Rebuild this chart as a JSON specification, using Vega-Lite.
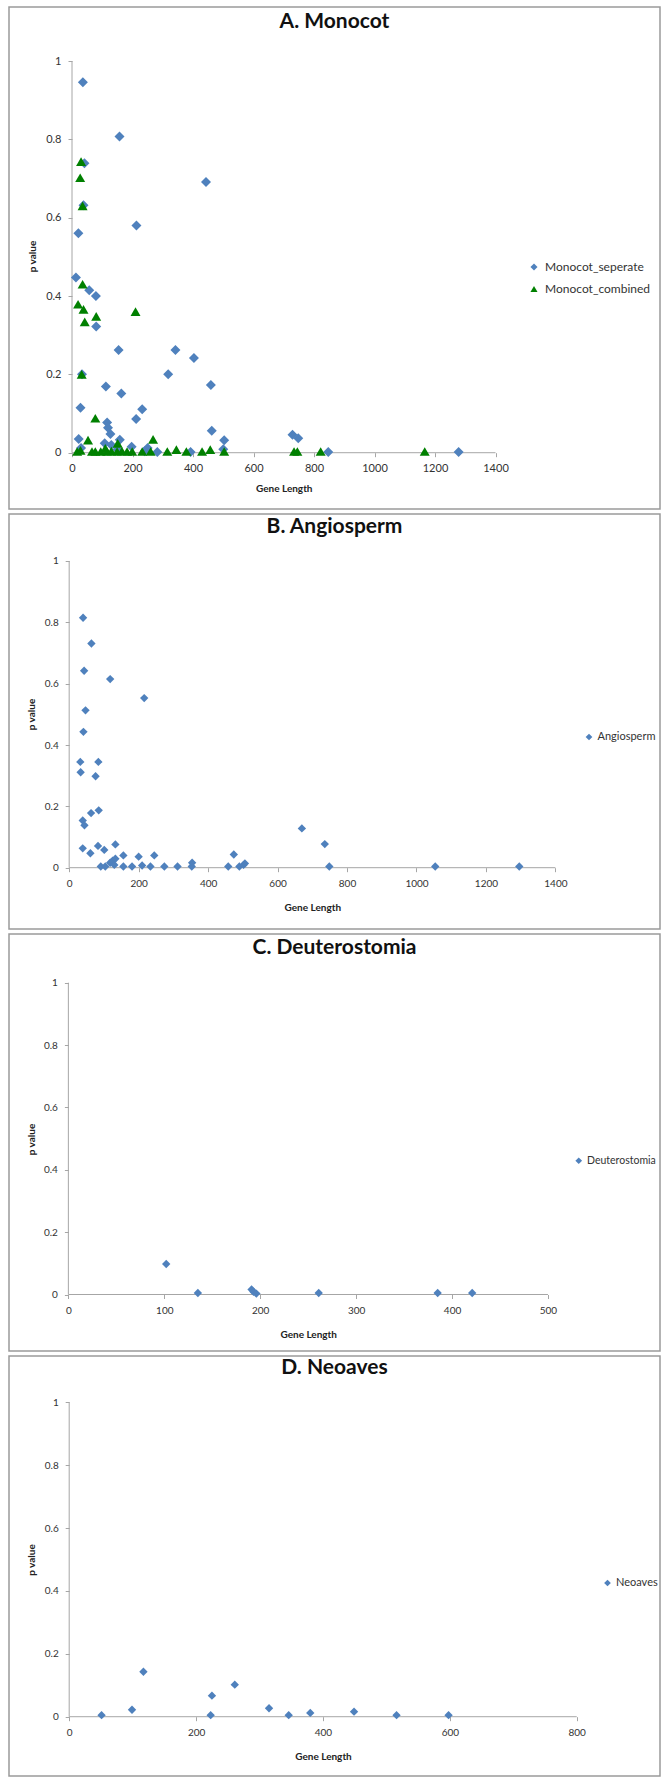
{
"$schema": "https://vega.github.io/schema/vega-lite/v6.json",
"padding": {"left": 8, "top": 6, "right": 7, "bottom": 7},
"background": "white",
"bounds": "flush",
"spacing": 5,
"resolve": {"scale": {"x": "independent", "y": "independent", "color": "independent", "shape": "independent"}, "legend": {"color": "independent", "shape": "independent"}, "axis": {"x": "independent", "y": "independent"}},
"config": {
  "font": "Lato",
  "view": {"stroke": "#9a9a9a", "strokeWidth": 1.5},
  "axis": {"grid": false, "domain": false, "tickColor": "#a6a6a6", "tickSize": 4, "labelColor": "#333333", "labelFont": "Lato", "titleFont": "Lato", "titleFontWeight": "bold", "titleColor": "#222222", "titleFontSize": 10, "labelFlush": false, "labelOverlap": false},
  "title": {"font": "Lato", "fontWeight": "bold", "fontSize": 21, "color": "#111111", "anchor": "middle", "frame": "group"},
  "legend": {"labelFont": "Lato", "labelColor": "#333333", "padding": 0, "symbolStrokeWidth": 0}
},
"datasets": {
  "monocot": [
    {"series": "Monocot_seperate", "gene_length": 36, "p": 0.946},
    {"series": "Monocot_seperate", "gene_length": 157, "p": 0.807},
    {"series": "Monocot_seperate", "gene_length": 41, "p": 0.739},
    {"series": "Monocot_seperate", "gene_length": 38, "p": 0.632},
    {"series": "Monocot_seperate", "gene_length": 443, "p": 0.691},
    {"series": "Monocot_seperate", "gene_length": 213, "p": 0.58},
    {"series": "Monocot_seperate", "gene_length": 21, "p": 0.56},
    {"series": "Monocot_seperate", "gene_length": 13, "p": 0.447},
    {"series": "Monocot_seperate", "gene_length": 57, "p": 0.415},
    {"series": "Monocot_seperate", "gene_length": 79, "p": 0.4},
    {"series": "Monocot_seperate", "gene_length": 80, "p": 0.322},
    {"series": "Monocot_seperate", "gene_length": 154, "p": 0.262},
    {"series": "Monocot_seperate", "gene_length": 342, "p": 0.262},
    {"series": "Monocot_seperate", "gene_length": 403, "p": 0.242},
    {"series": "Monocot_seperate", "gene_length": 318, "p": 0.2},
    {"series": "Monocot_seperate", "gene_length": 33, "p": 0.2},
    {"series": "Monocot_seperate", "gene_length": 112, "p": 0.169},
    {"series": "Monocot_seperate", "gene_length": 459, "p": 0.173},
    {"series": "Monocot_seperate", "gene_length": 163, "p": 0.151},
    {"series": "Monocot_seperate", "gene_length": 28, "p": 0.115},
    {"series": "Monocot_seperate", "gene_length": 232, "p": 0.111},
    {"series": "Monocot_seperate", "gene_length": 212, "p": 0.086},
    {"series": "Monocot_seperate", "gene_length": 116, "p": 0.077},
    {"series": "Monocot_seperate", "gene_length": 119, "p": 0.064},
    {"series": "Monocot_seperate", "gene_length": 127, "p": 0.048},
    {"series": "Monocot_seperate", "gene_length": 462, "p": 0.056},
    {"series": "Monocot_seperate", "gene_length": 22, "p": 0.035},
    {"series": "Monocot_seperate", "gene_length": 503, "p": 0.032},
    {"series": "Monocot_seperate", "gene_length": 158, "p": 0.033},
    {"series": "Monocot_seperate", "gene_length": 729, "p": 0.046},
    {"series": "Monocot_seperate", "gene_length": 748, "p": 0.037},
    {"series": "Monocot_seperate", "gene_length": 108, "p": 0.024},
    {"series": "Monocot_seperate", "gene_length": 197, "p": 0.015},
    {"series": "Monocot_seperate", "gene_length": 250, "p": 0.012},
    {"series": "Monocot_seperate", "gene_length": 282, "p": 0.002},
    {"series": "Monocot_seperate", "gene_length": 392, "p": 0.002},
    {"series": "Monocot_seperate", "gene_length": 500, "p": 0.009},
    {"series": "Monocot_seperate", "gene_length": 847, "p": 0.002},
    {"series": "Monocot_seperate", "gene_length": 1278, "p": 0.002},
    {"series": "Monocot_seperate", "gene_length": 30, "p": 0.012},
    {"series": "Monocot_seperate", "gene_length": 130, "p": 0.02},
    {"series": "Monocot_seperate", "gene_length": 150, "p": 0.008},
    {"series": "Monocot_seperate", "gene_length": 240, "p": 0.004},
    {"series": "Monocot_combined", "gene_length": 30, "p": 0.743},
    {"series": "Monocot_combined", "gene_length": 27, "p": 0.702},
    {"series": "Monocot_combined", "gene_length": 35, "p": 0.63},
    {"series": "Monocot_combined", "gene_length": 35, "p": 0.43},
    {"series": "Monocot_combined", "gene_length": 20, "p": 0.379},
    {"series": "Monocot_combined", "gene_length": 38, "p": 0.366},
    {"series": "Monocot_combined", "gene_length": 42, "p": 0.334},
    {"series": "Monocot_combined", "gene_length": 80, "p": 0.348},
    {"series": "Monocot_combined", "gene_length": 210, "p": 0.36},
    {"series": "Monocot_combined", "gene_length": 32, "p": 0.2},
    {"series": "Monocot_combined", "gene_length": 77, "p": 0.088},
    {"series": "Monocot_combined", "gene_length": 53, "p": 0.032},
    {"series": "Monocot_combined", "gene_length": 268, "p": 0.034},
    {"series": "Monocot_combined", "gene_length": 151, "p": 0.024},
    {"series": "Monocot_combined", "gene_length": 110, "p": 0.011},
    {"series": "Monocot_combined", "gene_length": 17, "p": 0.003},
    {"series": "Monocot_combined", "gene_length": 28, "p": 0.006},
    {"series": "Monocot_combined", "gene_length": 66, "p": 0.003},
    {"series": "Monocot_combined", "gene_length": 77, "p": 0.003},
    {"series": "Monocot_combined", "gene_length": 95, "p": 0.003},
    {"series": "Monocot_combined", "gene_length": 116, "p": 0.003},
    {"series": "Monocot_combined", "gene_length": 130, "p": 0.004},
    {"series": "Monocot_combined", "gene_length": 149, "p": 0.003},
    {"series": "Monocot_combined", "gene_length": 165, "p": 0.004},
    {"series": "Monocot_combined", "gene_length": 182, "p": 0.003},
    {"series": "Monocot_combined", "gene_length": 199, "p": 0.003},
    {"series": "Monocot_combined", "gene_length": 232, "p": 0.003},
    {"series": "Monocot_combined", "gene_length": 260, "p": 0.003},
    {"series": "Monocot_combined", "gene_length": 315, "p": 0.003},
    {"series": "Monocot_combined", "gene_length": 345, "p": 0.008},
    {"series": "Monocot_combined", "gene_length": 378, "p": 0.003},
    {"series": "Monocot_combined", "gene_length": 430, "p": 0.003},
    {"series": "Monocot_combined", "gene_length": 457, "p": 0.008},
    {"series": "Monocot_combined", "gene_length": 503, "p": 0.003},
    {"series": "Monocot_combined", "gene_length": 734, "p": 0.003},
    {"series": "Monocot_combined", "gene_length": 745, "p": 0.003},
    {"series": "Monocot_combined", "gene_length": 822, "p": 0.003},
    {"series": "Monocot_combined", "gene_length": 1166, "p": 0.003}
  ],
  "angio": [
    {"series": "Angiosperm", "gene_length": 40, "p": 0.815},
    {"series": "Angiosperm", "gene_length": 64, "p": 0.731},
    {"series": "Angiosperm", "gene_length": 43, "p": 0.642},
    {"series": "Angiosperm", "gene_length": 118, "p": 0.615},
    {"series": "Angiosperm", "gene_length": 216, "p": 0.553},
    {"series": "Angiosperm", "gene_length": 47, "p": 0.513},
    {"series": "Angiosperm", "gene_length": 41, "p": 0.443},
    {"series": "Angiosperm", "gene_length": 32, "p": 0.345},
    {"series": "Angiosperm", "gene_length": 84, "p": 0.345},
    {"series": "Angiosperm", "gene_length": 33, "p": 0.311},
    {"series": "Angiosperm", "gene_length": 76, "p": 0.298},
    {"series": "Angiosperm", "gene_length": 63, "p": 0.178},
    {"series": "Angiosperm", "gene_length": 85, "p": 0.187},
    {"series": "Angiosperm", "gene_length": 39, "p": 0.154},
    {"series": "Angiosperm", "gene_length": 44, "p": 0.138},
    {"series": "Angiosperm", "gene_length": 39, "p": 0.063},
    {"series": "Angiosperm", "gene_length": 61, "p": 0.047},
    {"series": "Angiosperm", "gene_length": 83, "p": 0.071},
    {"series": "Angiosperm", "gene_length": 101, "p": 0.058},
    {"series": "Angiosperm", "gene_length": 133, "p": 0.076},
    {"series": "Angiosperm", "gene_length": 156, "p": 0.04},
    {"series": "Angiosperm", "gene_length": 200, "p": 0.036},
    {"series": "Angiosperm", "gene_length": 245, "p": 0.04},
    {"series": "Angiosperm", "gene_length": 474, "p": 0.043},
    {"series": "Angiosperm", "gene_length": 670, "p": 0.128},
    {"series": "Angiosperm", "gene_length": 736, "p": 0.077},
    {"series": "Angiosperm", "gene_length": 91, "p": 0.004},
    {"series": "Angiosperm", "gene_length": 104, "p": 0.004},
    {"series": "Angiosperm", "gene_length": 118, "p": 0.016},
    {"series": "Angiosperm", "gene_length": 125, "p": 0.023},
    {"series": "Angiosperm", "gene_length": 130, "p": 0.009},
    {"series": "Angiosperm", "gene_length": 133, "p": 0.029},
    {"series": "Angiosperm", "gene_length": 156, "p": 0.004},
    {"series": "Angiosperm", "gene_length": 181, "p": 0.004},
    {"series": "Angiosperm", "gene_length": 210, "p": 0.007},
    {"series": "Angiosperm", "gene_length": 234, "p": 0.004},
    {"series": "Angiosperm", "gene_length": 274, "p": 0.004},
    {"series": "Angiosperm", "gene_length": 312, "p": 0.004},
    {"series": "Angiosperm", "gene_length": 353, "p": 0.004},
    {"series": "Angiosperm", "gene_length": 354, "p": 0.016},
    {"series": "Angiosperm", "gene_length": 458, "p": 0.004},
    {"series": "Angiosperm", "gene_length": 490, "p": 0.004},
    {"series": "Angiosperm", "gene_length": 502, "p": 0.009},
    {"series": "Angiosperm", "gene_length": 506, "p": 0.014},
    {"series": "Angiosperm", "gene_length": 749, "p": 0.004},
    {"series": "Angiosperm", "gene_length": 1054, "p": 0.004},
    {"series": "Angiosperm", "gene_length": 1296, "p": 0.004}
  ],
  "deut": [
    {"series": "Deuterostomia", "gene_length": 102, "p": 0.098},
    {"series": "Deuterostomia", "gene_length": 135, "p": 0.005},
    {"series": "Deuterostomia", "gene_length": 191, "p": 0.016},
    {"series": "Deuterostomia", "gene_length": 193, "p": 0.009},
    {"series": "Deuterostomia", "gene_length": 196, "p": 0.003},
    {"series": "Deuterostomia", "gene_length": 261, "p": 0.005},
    {"series": "Deuterostomia", "gene_length": 385, "p": 0.005},
    {"series": "Deuterostomia", "gene_length": 421, "p": 0.005}
  ],
  "neo": [
    {"series": "Neoaves", "gene_length": 51, "p": 0.005},
    {"series": "Neoaves", "gene_length": 99, "p": 0.022},
    {"series": "Neoaves", "gene_length": 117, "p": 0.143},
    {"series": "Neoaves", "gene_length": 223, "p": 0.005},
    {"series": "Neoaves", "gene_length": 225, "p": 0.067},
    {"series": "Neoaves", "gene_length": 261, "p": 0.102},
    {"series": "Neoaves", "gene_length": 315, "p": 0.027},
    {"series": "Neoaves", "gene_length": 346, "p": 0.005},
    {"series": "Neoaves", "gene_length": 380, "p": 0.012},
    {"series": "Neoaves", "gene_length": 449, "p": 0.016},
    {"series": "Neoaves", "gene_length": 516, "p": 0.005},
    {"series": "Neoaves", "gene_length": 598, "p": 0.005}
  ]
},
"vconcat": [
  {
   "width": 651, "height": 502,
   "title": {"text": "A. Monocot", "offset": -36.2, "baseline": "middle"},
   "layer": [
    {"data": {"values": [{}]}, "mark": {"type": "rule", "color": "#a6a6a6", "strokeWidth": 1},
     "encoding": {"x": {"datum": 0, "type": "quantitative", "scale": {"domain": [-208.3, 1943.8], "nice": false, "zero": false}}, "x2": {"datum": 1400}, "y": {"datum": 0, "type": "quantitative", "scale": {"domain": [-0.1437, 1.1379], "nice": false, "zero": false}}}},
    {"data": {"values": [{}]}, "mark": {"type": "rule", "color": "#a6a6a6", "strokeWidth": 1},
     "encoding": {"x": {"datum": 0, "type": "quantitative", "scale": {"domain": [-208.3, 1943.8], "nice": false, "zero": false}}, "y": {"datum": 0, "type": "quantitative", "scale": {"domain": [-0.1437, 1.1379], "nice": false, "zero": false}}, "y2": {"datum": 1}}},
    {"data": {"name": "monocot"}, "mark": {"type": "point", "filled": true, "size": 100, "opacity": 1},
     "encoding": {
      "x": {"field": "gene_length", "type": "quantitative", "scale": {"domain": [-208.3, 1943.8], "nice": false, "zero": false},
            "axis": {"title": "Gene Length", "values": [0, 200, 400, 600, 800, 1000, 1200, 1400], "format": "d", "offset": -56.3, "titleX": 274.75, "titleY": 35.6, "titleBaseline": "middle", "titleAlign": "center", "labelPadding": 6, "labelFontSize": 11}},
      "y": {"field": "p", "type": "quantitative", "scale": {"domain": [-0.1437, 1.1379], "nice": false, "zero": false},
            "axis": {"title": "p value", "values": [0, 0.2, 0.4, 0.6, 0.8, 1], "format": "~g", "offset": -63, "titleX": -40, "titleY": 249, "titleAngle": -90, "titleBaseline": "middle", "titleAlign": "center", "labelPadding": 7, "labelFontSize": 11}},
      "color": {"field": "series", "type": "nominal", "scale": {"domain": ["Monocot_seperate", "Monocot_combined"], "range": ["#4f81bd", "#008000"]},
            "legend": {"orient": "none", "legendX": 519, "legendY": 254, "title": null, "labelFontSize": 12, "symbolSize": 50, "rowPadding": 10, "labelOffset": 5}},
      "shape": {"field": "series", "type": "nominal", "scale": {"domain": ["Monocot_seperate", "Monocot_combined"], "range": ["diamond", "triangle-up"]},
            "legend": {"orient": "none", "legendX": 519, "legendY": 254, "title": null, "labelFontSize": 12, "symbolSize": 50, "rowPadding": 10, "labelOffset": 5}}
     }}
   ]
  },
  {
   "width": 651, "height": 415,
   "title": {"text": "B. Angiosperm", "offset": -33.5, "baseline": "middle"},
   "layer": [
    {"data": {"values": [{}]}, "mark": {"type": "rule", "color": "#a6a6a6", "strokeWidth": 1},
     "encoding": {"x": {"datum": 0, "type": "quantitative", "scale": {"domain": [-173.3, 1701.2], "nice": false, "zero": false}}, "x2": {"datum": 1400}, "y": {"datum": 0, "type": "quantitative", "scale": {"domain": [-0.1999, 1.1532], "nice": false, "zero": false}}}},
    {"data": {"values": [{}]}, "mark": {"type": "rule", "color": "#a6a6a6", "strokeWidth": 1},
     "encoding": {"x": {"datum": 0, "type": "quantitative", "scale": {"domain": [-173.3, 1701.2], "nice": false, "zero": false}}, "y": {"datum": 0, "type": "quantitative", "scale": {"domain": [-0.1999, 1.1532], "nice": false, "zero": false}}, "y2": {"datum": 1}}},
    {"data": {"name": "angio"}, "mark": {"type": "point", "filled": true, "size": 70, "opacity": 1},
     "encoding": {
      "x": {"field": "gene_length", "type": "quantitative", "scale": {"domain": [-173.3, 1701.2], "nice": false, "zero": false},
            "axis": {"title": "Gene Length", "values": [0, 200, 400, 600, 800, 1000, 1200, 1400], "format": "d", "offset": -61.3, "titleX": 303.3, "titleY": 40, "titleBaseline": "middle", "titleAlign": "center", "labelPadding": 7, "labelFontSize": 10}},
      "y": {"field": "p", "type": "quantitative", "scale": {"domain": [-0.1999, 1.1532], "nice": false, "zero": false},
            "axis": {"title": "p value", "values": [0, 0.2, 0.4, 0.6, 0.8, 1], "format": "~g", "offset": -60.2, "titleX": -37.5, "titleY": 200, "titleAngle": -90, "titleBaseline": "middle", "titleAlign": "center", "labelPadding": 7, "labelFontSize": 10}},
      "color": {"field": "series", "type": "nominal", "scale": {"domain": ["Angiosperm"], "range": ["#4f81bd"]},
            "legend": {"orient": "none", "legendX": 574.5, "legendY": 217.5, "title": null, "labelFontSize": 11, "symbolSize": 45, "labelOffset": 3}},
      "shape": {"field": "series", "type": "nominal", "scale": {"domain": ["Angiosperm"], "range": ["diamond"]},
            "legend": {"orient": "none", "legendX": 574.5, "legendY": 217.5, "title": null, "labelFontSize": 11, "symbolSize": 45, "labelOffset": 3}}
     }}
   ]
  },
  {
   "width": 651, "height": 417,
   "title": {"text": "C. Deuterostomia", "offset": -34.5, "baseline": "middle"},
   "layer": [
    {"data": {"values": [{}]}, "mark": {"type": "rule", "color": "#a6a6a6", "strokeWidth": 1},
     "encoding": {"x": {"datum": 0, "type": "quantitative", "scale": {"domain": [-61.9, 616.8], "nice": false, "zero": false}}, "x2": {"datum": 500}, "y": {"datum": 0, "type": "quantitative", "scale": {"domain": [-0.1812, 1.1562], "nice": false, "zero": false}}}},
    {"data": {"values": [{}]}, "mark": {"type": "rule", "color": "#a6a6a6", "strokeWidth": 1},
     "encoding": {"x": {"datum": 0, "type": "quantitative", "scale": {"domain": [-61.9, 616.8], "nice": false, "zero": false}}, "y": {"datum": 0, "type": "quantitative", "scale": {"domain": [-0.1812, 1.1562], "nice": false, "zero": false}}, "y2": {"datum": 1}}},
    {"data": {"name": "deut"}, "mark": {"type": "point", "filled": true, "size": 70, "opacity": 1},
     "encoding": {
      "x": {"field": "gene_length", "type": "quantitative", "scale": {"domain": [-61.9, 616.8], "nice": false, "zero": false},
            "axis": {"title": "Gene Length", "values": [0, 100, 200, 300, 400, 500], "format": "d", "offset": -56.5, "titleX": 299.2, "titleY": 40, "titleBaseline": "middle", "titleAlign": "center", "labelPadding": 7, "labelFontSize": 10}},
      "y": {"field": "p", "type": "quantitative", "scale": {"domain": [-0.1812, 1.1562], "nice": false, "zero": false},
            "axis": {"title": "p value", "values": [0, 0.2, 0.4, 0.6, 0.8, 1], "format": "~g", "offset": -59.4, "titleX": -36.7, "titleY": 205, "titleAngle": -90, "titleBaseline": "middle", "titleAlign": "center", "labelPadding": 7, "labelFontSize": 10}},
      "color": {"field": "series", "type": "nominal", "scale": {"domain": ["Deuterostomia"], "range": ["#4f81bd"]},
            "legend": {"orient": "none", "legendX": 564.5, "legendY": 221.5, "title": null, "labelFontSize": 10.5, "symbolSize": 45, "labelOffset": 3}},
      "shape": {"field": "series", "type": "nominal", "scale": {"domain": ["Deuterostomia"], "range": ["diamond"]},
            "legend": {"orient": "none", "legendX": 564.5, "legendY": 221.5, "title": null, "labelFontSize": 10.5, "symbolSize": 45, "labelOffset": 3}}
     }}
   ]
  },
  {
   "width": 651, "height": 420,
   "title": {"text": "D. Neoaves", "offset": -32.8, "baseline": "middle"},
   "layer": [
    {"data": {"values": [{}]}, "mark": {"type": "rule", "color": "#a6a6a6", "strokeWidth": 1},
     "encoding": {"x": {"datum": 0, "type": "quantitative", "scale": {"domain": [-94.9, 931.3], "nice": false, "zero": false}}, "x2": {"datum": 800}, "y": {"datum": 0, "type": "quantitative", "scale": {"domain": [-0.1886, 1.1473], "nice": false, "zero": false}}}},
    {"data": {"values": [{}]}, "mark": {"type": "rule", "color": "#a6a6a6", "strokeWidth": 1},
     "encoding": {"x": {"datum": 0, "type": "quantitative", "scale": {"domain": [-94.9, 931.3], "nice": false, "zero": false}}, "y": {"datum": 0, "type": "quantitative", "scale": {"domain": [-0.1886, 1.1473], "nice": false, "zero": false}}, "y2": {"datum": 1}}},
    {"data": {"name": "neo"}, "mark": {"type": "point", "filled": true, "size": 70, "opacity": 1},
     "encoding": {
      "x": {"field": "gene_length", "type": "quantitative", "scale": {"domain": [-94.9, 931.3], "nice": false, "zero": false},
            "axis": {"title": "Gene Length", "values": [0, 200, 400, 600, 800], "format": "d", "offset": -59.3, "titleX": 314, "titleY": 40, "titleBaseline": "middle", "titleAlign": "center", "labelPadding": 7, "labelFontSize": 10}},
      "y": {"field": "p", "type": "quantitative", "scale": {"domain": [-0.1886, 1.1473], "nice": false, "zero": false},
            "axis": {"title": "p value", "values": [0, 0.2, 0.4, 0.6, 0.8, 1], "format": "~g", "offset": -60.2, "titleX": -37.5, "titleY": 203.5, "titleAngle": -90, "titleBaseline": "middle", "titleAlign": "center", "labelPadding": 7, "labelFontSize": 10}},
      "color": {"field": "series", "type": "nominal", "scale": {"domain": ["Neoaves"], "range": ["#4f81bd"]},
            "legend": {"orient": "none", "legendX": 593, "legendY": 221.5, "title": null, "labelFontSize": 11, "symbolSize": 45, "labelOffset": 3}},
      "shape": {"field": "series", "type": "nominal", "scale": {"domain": ["Neoaves"], "range": ["diamond"]},
            "legend": {"orient": "none", "legendX": 593, "legendY": 221.5, "title": null, "labelFontSize": 11, "symbolSize": 45, "labelOffset": 3}}
     }}
   ]
  }
]
}
